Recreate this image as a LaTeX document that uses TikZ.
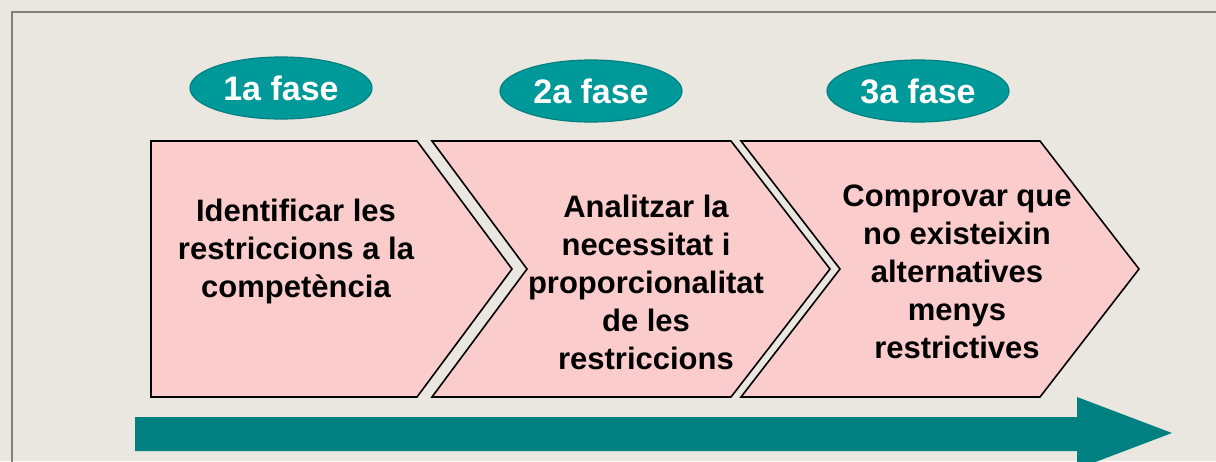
\documentclass[tikz,border=0pt]{standalone}
\usepackage{fontspec}
\setmainfont{Liberation Sans}
\usetikzlibrary{shapes.geometric}

\definecolor{fons}{HTML}{EAE7E0}
\definecolor{rosa}{HTML}{FBCCCC}
\definecolor{verd}{HTML}{009999}
\definecolor{verdfosc}{HTML}{008080}

\tikzset{
  fase/.style={ellipse, fill=verd, draw=verdfosc, line width=0.6pt,
    minimum width=91pt, minimum height=31pt, inner sep=0pt,
    text=white, font=\fontsize{17}{20}\selectfont\bfseries},
  pas/.style={fill=rosa, draw=black, line width=0.8pt, line join=miter},
  rotul/.style={align=center, inner sep=0pt,
    font=\fontsize{15.5}{19}\selectfont\bfseries},
}

\begin{document}
\begin{tikzpicture}[x=0.5pt,y=-0.5pt]
  \useasboundingbox (0,0) rectangle (1216,461);
  \fill [fons] (0,0) rectangle (1216,461);
  \draw [gray, line width=1pt] (12,470) -- (12,12) -- (1225,12);

  % fases
  \node [fase] (f1) at (281,88) {1a fase};
  \node [fase] (f2) at (591,91) {2a fase};
  \node [fase] (f3) at (918,91) {3a fase};

  % passos
  \filldraw [pas] (151,141) -- (417,141) -- (512,269) -- (417,397) -- (151,397) -- cycle;
  \filldraw [pas] (432,141) -- (731,141) -- (830,269) -- (731,397) -- (432,397) -- (527,269) -- cycle;
  \filldraw [pas] (741,141) -- (1040,141) -- (1139,269) -- (1040,397) -- (741,397) -- (840,269) -- cycle;
  \node [rotul] (p1) at (296,251) {Identificar les\\restriccions a la\\competència};
  \node [rotul] (p2) at (646,282) {Analitzar la\\necessitat i\\proporcionalitat\\de les\\restriccions};
  \node [rotul] (p3) at (957,272) {Comprovar que\\no existeixin\\alternatives\\menys\\restrictives};

  % fletxa
  \fill [verdfosc] (135,417) -- (1077,417) -- (1077,397) -- (1172,433)
    -- (1077,469) -- (1077,451) -- (135,451) -- cycle;
\end{tikzpicture}
\end{document}
